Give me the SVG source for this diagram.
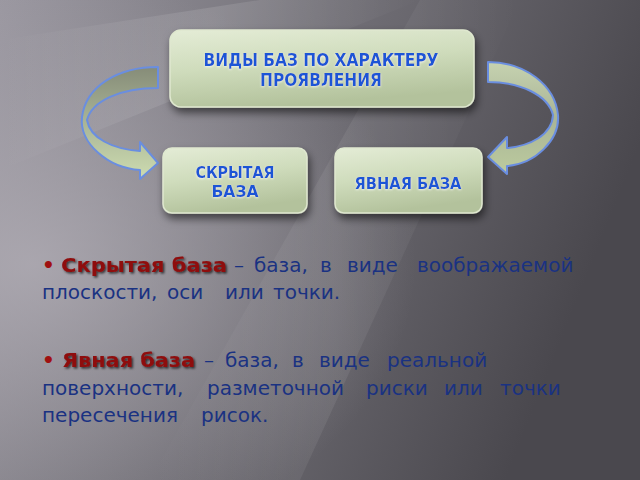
<svg xmlns="http://www.w3.org/2000/svg" width="640" height="480" viewBox="0 0 640 480">
<defs>
<linearGradient id="bg" x1="0" y1="0" x2="1" y2="0.3">
<stop offset="0" stop-color="#9a97a0"/>
<stop offset="0.45" stop-color="#75737a"/>
<stop offset="1" stop-color="#4a484e"/>
</linearGradient>
<radialGradient id="glow" cx="0.05" cy="0.55" r="0.6">
<stop offset="0" stop-color="#b4b0b8" stop-opacity="0.75"/>
<stop offset="1" stop-color="#b0acb4" stop-opacity="0"/>
</radialGradient>
<linearGradient id="streak" x1="0" y1="0" x2="1" y2="0">
<stop offset="0" stop-color="#ffffff" stop-opacity="0"/>
<stop offset="0.5" stop-color="#ffffff" stop-opacity="0.12"/>
<stop offset="1" stop-color="#ffffff" stop-opacity="0"/>
</linearGradient>
<linearGradient id="box" x1="0" y1="0" x2="0.3" y2="1">
<stop offset="0" stop-color="#e4ecd6"/>
<stop offset="0.5" stop-color="#cfdcbc"/>
<stop offset="1" stop-color="#b3c29c"/>
</linearGradient>
<linearGradient id="arrL" x1="0" y1="0" x2="0" y2="1">
<stop offset="0" stop-color="#868c78"/>
<stop offset="0.45" stop-color="#a6b194"/>
<stop offset="1" stop-color="#cddcb0"/>
</linearGradient>
<linearGradient id="arrR" x1="0" y1="0" x2="0" y2="1">
<stop offset="0" stop-color="#c6d2b0"/>
<stop offset="0.5" stop-color="#a9b496"/>
<stop offset="1" stop-color="#bccb9e"/>
</linearGradient>
<filter id="sh" x="-20%" y="-20%" width="140%" height="160%">
<feDropShadow dx="2" dy="5" stdDeviation="4" flood-color="#000" flood-opacity="0.55"/>
</filter>
<filter id="tg" x="-10%" y="-30%" width="120%" height="160%">
<feGaussianBlur in="SourceAlpha" stdDeviation="1.2" result="b"/>
<feFlood flood-color="#ffffff" flood-opacity="0.7"/>
<feComposite in2="b" operator="in" result="g"/>
<feOffset in="g" dy="1" result="g2"/>
<feMerge><feMergeNode in="g2"/><feMergeNode in="SourceGraphic"/></feMerge>
</filter>
<filter id="ts" x="-5%" y="-20%" width="110%" height="150%">
<feDropShadow dx="1.5" dy="1.5" stdDeviation="0.8" flood-color="#000" flood-opacity="0.7"/>
</filter>
</defs>
<style>
.bt{font-family:"DejaVu Sans",Verdana,sans-serif;font-weight:bold;fill:#1e55d6;text-anchor:middle}
.tx{font-family:"DejaVu Sans",Verdana,sans-serif;font-size:20px;fill:#1a3282}
.bd{font-family:"DejaVu Sans",Verdana,sans-serif;font-size:20px;font-weight:bold;fill:#8e0a0a}
.bu{font-family:"DejaVu Sans",Verdana,sans-serif;font-size:20px;font-weight:bold;fill:#a01010}
.arrow{stroke:#6a8ee0;stroke-width:2;stroke-linejoin:round}
</style>
<rect width="640" height="480" fill="url(#bg)"/>
<rect width="640" height="480" fill="url(#glow)"/>
<polygon points="0,40 260,0 420,0 0,170" fill="url(#streak)"/>
<polygon points="150,480 420,0 520,0 300,480" fill="url(#streak)" opacity="0.6"/>

<g id="connectors">
<path class="arrow" fill="url(#arrL)" d="M158,67 C118,67 86,86 82,117 C79,143 108,168 140,170 L140,179 L158,163 L140,142 L140,151 C112,149 90,138 87,120 C92,101 120,88 158,88 Z"/>
<path class="arrow" fill="url(#arrR)" d="M488,62 C525,62 555,85 558,115 C560,140 535,164 507,166 L507,174 L488,157 L507,137 L507,148 C530,146 552,135 553,115 C548,95 520,82 488,82 Z"/>
</g>

<g id="node-top">
<rect x="170" y="30" width="304" height="77" rx="11" fill="url(#box)" stroke="#dfe8cf" stroke-width="1.5" filter="url(#sh)"/>
<g filter="url(#tg)">
<text class="bt" x="321" y="66" font-size="18" textLength="235" lengthAdjust="spacingAndGlyphs">ВИДЫ БАЗ ПО ХАРАКТЕРУ</text>
<text class="bt" x="321" y="86" font-size="18" textLength="122" lengthAdjust="spacingAndGlyphs">ПРОЯВЛЕНИЯ</text>
</g>
</g>

<g id="node-hidden">
<rect x="163" y="148" width="144" height="65" rx="9" fill="url(#box)" stroke="#dfe8cf" stroke-width="1.5" filter="url(#sh)"/>
<g filter="url(#tg)">
<text class="bt" x="235" y="178" font-size="15" textLength="79" lengthAdjust="spacingAndGlyphs">СКРЫТАЯ</text>
<text class="bt" x="235" y="197" font-size="15" textLength="47" lengthAdjust="spacingAndGlyphs">БАЗА</text>
</g>
</g>

<g id="node-explicit">
<rect x="335" y="148" width="147" height="65" rx="9" fill="url(#box)" stroke="#dfe8cf" stroke-width="1.5" filter="url(#sh)"/>
<g filter="url(#tg)">
<text class="bt" x="408" y="189" font-size="16" textLength="107" lengthAdjust="spacingAndGlyphs">ЯВНАЯ БАЗА</text>
</g>
</g>

<g id="text1">
<text class="bu" x="42" y="272">•</text>
<text class="bd" x="61" y="272" textLength="166" lengthAdjust="spacingAndGlyphs" filter="url(#ts)">Скрытая база</text>
<text class="tx" y="272"><tspan x="234">–</tspan><tspan x="254">база,</tspan><tspan x="320">в</tspan><tspan x="347">виде</tspan><tspan x="417">воображаемой</tspan></text>
<text class="tx" y="299"><tspan x="42">плоскости,</tspan><tspan x="167">оси</tspan><tspan x="225">или</tspan><tspan x="273">точки.</tspan></text>
</g>

<g id="text2">
<text class="bu" x="42" y="367">•</text>
<text class="bd" x="62" y="367" textLength="133" lengthAdjust="spacingAndGlyphs" filter="url(#ts)">Явная база</text>
<text class="tx" y="367"><tspan x="204">–</tspan><tspan x="225">база,</tspan><tspan x="292">в</tspan><tspan x="319">виде</tspan><tspan x="387">реальной</tspan></text>
<text class="tx" y="395"><tspan x="42">поверхности,</tspan><tspan x="207">разметочной</tspan><tspan x="366">риски</tspan><tspan x="444">или</tspan><tspan x="500">точки</tspan></text>
<text class="tx" y="422"><tspan x="42">пересечения</tspan><tspan x="201">рисок.</tspan></text>
</g>
</svg>
